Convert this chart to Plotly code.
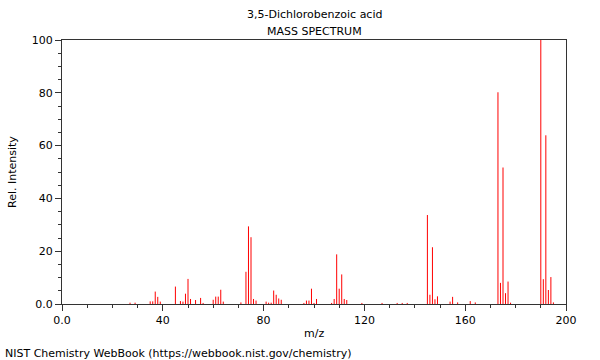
import plotly.graph_objects as go

mz = [27, 29, 35, 36, 37, 38, 39, 45, 47, 48, 49, 50, 51, 53, 55, 56, 60, 61, 62, 63, 64,
      71, 73, 74, 75, 76, 77, 81, 82, 83, 84, 85, 86, 87, 96, 97, 98, 99, 100, 101,
      107, 108, 109, 110, 111, 112, 113, 119, 127, 133, 135, 137, 145, 146, 147, 148, 149,
      154, 155, 157, 162, 164, 173, 174, 175, 176, 177, 178, 190, 191, 192, 193, 194, 195]
intensity = [0.5, 0.5, 1.0, 1.0, 4.7, 2.7, 0.9, 6.6, 1.1, 0.9, 3.9, 9.5, 1.9, 1.5, 2.3, 0.4,
             1.6, 2.8, 2.8, 5.4, 0.9, 0.6, 12.2, 29.4, 25.3, 1.9, 1.3, 0.9, 0.5, 0.5, 5.1, 3.5,
             2.1, 1.6, 0.4, 1.3, 1.3, 5.8, 0.4, 1.9, 0.4, 1.9, 18.8, 5.8, 11.2, 1.9, 1.5, 0.4,
             0.4, 0.4, 0.4, 0.4, 33.7, 3.5, 21.5, 1.8, 2.9, 0.9, 2.7, 0.6, 1.1, 0.6, 80.2, 8.0,
             51.7, 4.1, 8.5, 0.5, 100.0, 9.4, 63.9, 5.3, 10.2, 0.6]

x_tickvals = [0, 40, 80, 120, 160, 200]
x_ticktext = ["0.0", "40", "80", "120", "160", "200"]
y_tickvals = [0, 20, 40, 60, 80, 100]
y_ticktext = ["0.0", "20", "40", "60", "80", "100"]

title_line1 = "3,5-Dichlorobenzoic acid"
title_line2 = "MASS SPECTRUM"
x_title = "m/z"
y_title = "Rel. Intensity"
footer = "NIST Chemistry WebBook (https://webbook.nist.gov/chemistry)"

xs, ys = [], []
for m, v in zip(mz, intensity):
    xs += [m, m, None]
    ys += [0, v, None]

FONT = "DejaVu Sans"
AX = "#333333"

fig = go.Figure()
fig.add_trace(go.Scatter(x=xs, y=ys, mode="lines",
                         line=dict(color="#ff0000", width=1),
                         hoverinfo="skip", showlegend=False))

fig.update_layout(
    width=600, height=360,
    margin=dict(l=62, r=34, t=40, b=56),
    paper_bgcolor="white", plot_bgcolor="white",
    font=dict(family=FONT, size=11, color="black"),
    showlegend=False,
)
fig.update_xaxes(
    range=[0, 200], showgrid=False, zeroline=False,
    showline=True, linecolor=AX, linewidth=1, mirror=True,
    tickmode="array", tickvals=x_tickvals, ticktext=x_ticktext,
    ticks="outside", ticklen=6, tickcolor=AX, tickwidth=1,
    minor=dict(tickmode="array", tickvals=list(range(0, 201, 10)),
               ticks="outside", ticklen=3, tickcolor=AX, showgrid=False),
    tickfont=dict(family=FONT, size=11, color="black"),
)
fig.update_yaxes(
    range=[0, 100], showgrid=False, zeroline=False,
    showline=True, linecolor=AX, linewidth=1, mirror=True,
    tickmode="array", tickvals=y_tickvals, ticktext=y_ticktext,
    ticks="outside", ticklen=6, tickcolor=AX, tickwidth=1,
    minor=dict(tickmode="array", tickvals=list(range(0, 101, 5)),
               ticks="outside", ticklen=3, tickcolor=AX, showgrid=False),
    tickfont=dict(family=FONT, size=11, color="black"),
)

ann = dict(showarrow=False, font=dict(family=FONT, size=11, color="black"))
fig.add_annotation(text=title_line1, xref="paper", yref="paper", x=0.5, y=1,
                   yshift=26, xanchor="center", yanchor="middle", **ann)
fig.add_annotation(text=title_line2, xref="paper", yref="paper", x=0.5, y=1,
                   yshift=9, xanchor="center", yanchor="middle", **ann)
fig.add_annotation(text=x_title, xref="paper", yref="paper", x=0.5, y=0,
                   yshift=-29, xanchor="center", yanchor="middle", **ann)
fig.add_annotation(text=y_title, xref="paper", yref="paper", x=0, y=0.5,
                   xshift=-50, textangle=-90, xanchor="center", yanchor="middle", **ann)
fig.add_annotation(text=footer, xref="paper", yref="paper", x=0, y=0,
                   xshift=-59, yshift=-49, xanchor="left", yanchor="middle", **ann)

fig.write_html("out.html",
               config={"displayModeBar": False},
               post_script="document.body.style.margin='0';document.body.style.padding='0';")
